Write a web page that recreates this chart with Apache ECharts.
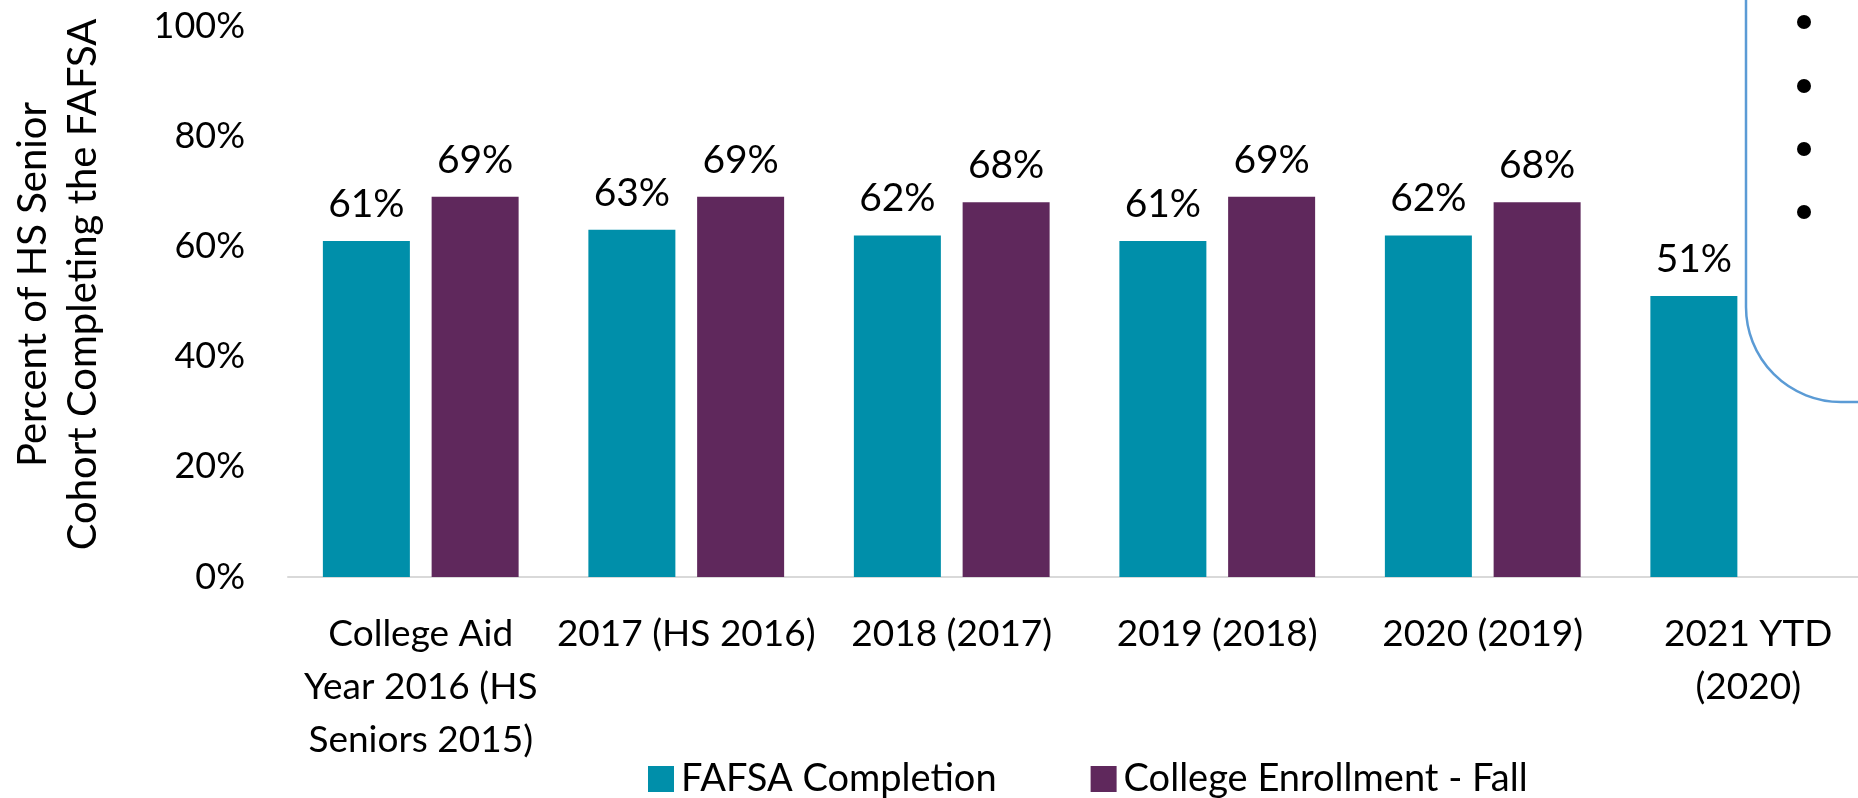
<!DOCTYPE html>
<html>
<head>
<meta charset="utf-8">
<title>FAFSA Completion vs College Enrollment</title>
<script src="https://cdn.jsdelivr.net/npm/echarts@6/dist/echarts.min.js"></script>
<style>
  html, body { margin: 0; padding: 0; background: #fff; }
  #chart { width: 1858px; height: 798px; }
</style>
</head>
<body>
<div id="chart"></div>
<script>
  // categories (aid year / HS senior cohort)
  const categories = [
    'College Aid\nYear 2016 (HS\nSeniors 2015)',
    '2017 (HS 2016)',
    '2018 (2017)',
    '2019 (2018)',
    '2020 (2019)',
    '2021 YTD\n(2020)'
  ];
  const fafsaCompletion = [61, 63, 62, 61, 62, 51];
  const collegeEnrollment = [69, 69, 68, 69, 68, null];
  const yTicks = [0, 20, 40, 60, 80, 100];

  const FONT = 'Lato, "Open Sans", sans-serif';
  const TEAL = '#008FAA';
  const PURPLE = '#5F285C';

  const chart = echarts.init(document.getElementById('chart'));

  // 数值标签
  const valueLabel = {
    show: true,
    position: 'top',
    distance: 17,
    formatter: '{c}%',
    fontFamily: FONT,
    fontSize: 39,
    color: '#000'
  };

  const option = {
    backgroundColor: '#fff',
    animation: false,
    grid: {
      left: 288,
      right: -23,
      top: 26,
      bottom: 221,
      containLabel: false,
      outerBoundsMode: 'none'
    },
    legend: {
      left: 643,
      top: 755,
      itemWidth: 26,
      itemHeight: 26,
      itemGap: 94,
      icon: 'rect',
      textStyle: { fontFamily: FONT, fontSize: 38, color: '#000', padding: [0, 0, 0, 2] },
      data: ['FAFSA Completion', 'College Enrollment - Fall']
    },
    xAxis: {
      type: 'category',
      data: categories,
      axisLine: { show: true, lineStyle: { color: '#D9D9D9', width: 2 } },
      axisTick: { show: false },
      axisLabel: {
        interval: 0,
        margin: 31,
        fontFamily: FONT,
        fontSize: 37,
        lineHeight: 53,
        color: '#000'
      }
    },
    yAxis: {
      type: 'value',
      min: yTicks[0],
      max: yTicks[yTicks.length - 1],
      interval: 20,
      name: 'Percent of HS Senior\nCohort Completing the FAFSA',
      nameLocation: 'middle',
      nameGap: 180,
      nameRotate: 90,
      nameTextStyle: {
        fontFamily: FONT,
        fontSize: 40,
        lineHeight: 50,
        color: '#000',
        padding: [0, 0, 0, 34]
      },
      axisLine: { show: false },
      axisTick: { show: false },
      splitLine: { show: false },
      axisLabel: {
        margin: 43,
        formatter: '{value}%',
        fontFamily: FONT,
        fontSize: 36,
        color: '#000'
      }
    },
    series: [
      {
        name: 'FAFSA Completion',
        type: 'bar',
        data: fafsaCompletion,
        barWidth: 87,
        barGap: '25%',
        itemStyle: { color: TEAL },
        label: valueLabel
      },
      {
        name: 'College Enrollment - Fall',
        type: 'bar',
        data: collegeEnrollment,
        barWidth: 87,
        itemStyle: { color: PURPLE },
        label: valueLabel
      }
    ],
    graphic: [
      {
        type: 'rect',
        z: 100,
        shape: { x: 1746, y: -120, width: 300, height: 522, r: 95 },
        style: { fill: '#fff', stroke: '#5B9BD5', lineWidth: 2.5 }
      },
      { type: 'circle', z: 101, shape: { cx: 1804, cy: 22, r: 7 }, style: { fill: '#000' } },
      { type: 'circle', z: 101, shape: { cx: 1804, cy: 86, r: 7 }, style: { fill: '#000' } },
      { type: 'circle', z: 101, shape: { cx: 1804, cy: 149, r: 7 }, style: { fill: '#000' } },
      { type: 'circle', z: 101, shape: { cx: 1804, cy: 212, r: 7 }, style: { fill: '#000' } }
    ]
  };

  chart.setOption(option);
</script>
</body>
</html>
